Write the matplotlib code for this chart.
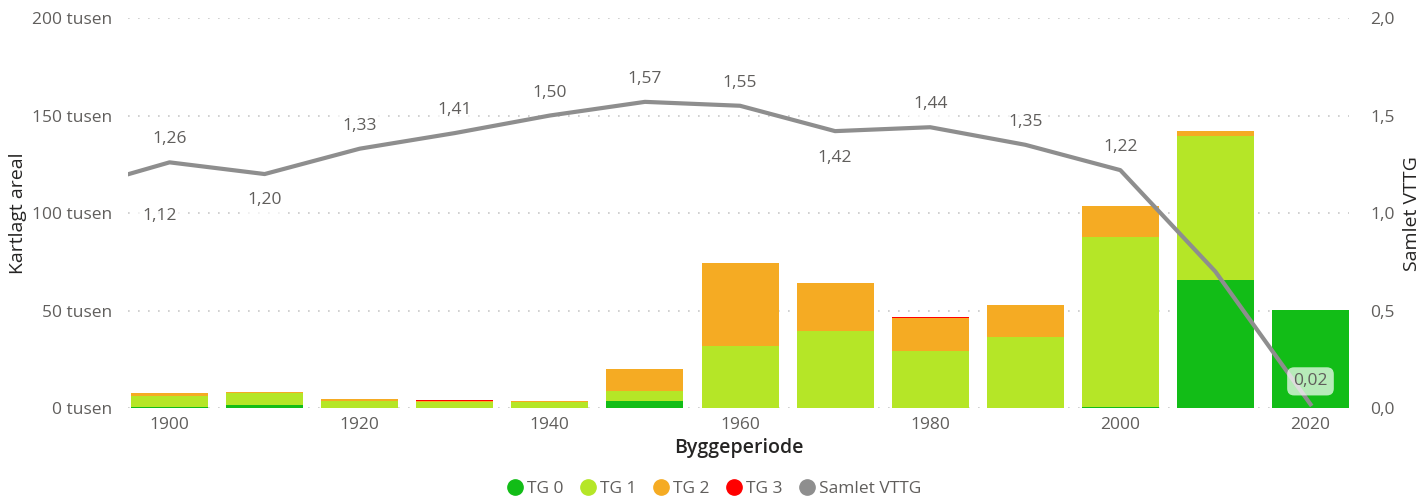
import numpy as np
import matplotlib as mpl
import matplotlib.pyplot as plt
from matplotlib.lines import Line2D
mpl.use("Agg")

plt.rcParams["font.family"] = ["Open Sans", "DejaVu Sans"]

perioder = [1900, 1910, 1920, 1930, 1940, 1950, 1960, 1970, 1980, 1990, 2000, 2010, 2020]
tg0 = [0.5, 1.4, 0.0, 0.0, 0.0, 3.5, 0.3, 0.0, 0.0, 0.0, 0.8, 65.6, 50.3]
tg1 = [5.8, 6.5, 3.8, 3.0, 3.4, 5.2, 31.5, 39.5, 29.2, 36.4, 86.9, 73.9, 0.0]
tg2 = [1.3, 0.3, 0.7, 0.8, 0.2, 11.3, 42.6, 24.6, 17.2, 16.4, 15.9, 2.6, 0.0]
tg3 = [0.2, 0.0, 0.0, 0.4, 0.0, 0.0, 0.0, 0.0, 0.4, 0.0, 0.0, 0.0, 0.0]

vttg_aar = [1890, 1900, 1910, 1920, 1930, 1940, 1950, 1960, 1970, 1980, 1990, 2000, 2010, 2020]
vttg = [1.12, 1.26, 1.20, 1.33, 1.41, 1.50, 1.57, 1.55, 1.42, 1.44, 1.35, 1.22, 0.70, 0.02]
under = [1890, 1910, 1970]  # etiketter under linja
skjult = [2010]

farger = ["#12BD17", "#B5E627", "#F5AB23", "#FF0000"]
navn = ["TG 0", "TG 1", "TG 2", "TG 3"]
tekstgraa = "#605E5C"
tittel = "#252423"

fig = plt.figure(figsize=(14.19, 4.99), dpi=100)
ax = fig.add_axes([0.09, 0.182, 0.861, 0.782])
ax2 = ax.twinx()

bunn = np.zeros(len(perioder))
for verdier, c, n in zip([tg0, tg1, tg2, tg3], farger, navn):
    ax.bar(perioder, verdier, width=8.1, bottom=bunn, color=c, label=n, zorder=2)
    bunn += np.array(verdier)

ax2.plot(vttg_aar, vttg, color="#8E8E8E", lw=3, label="Samlet VTTG", zorder=3)
for x, v in zip(vttg_aar, vttg):
    if x in skjult:
        continue
    dy = -19 if x in under else 16.5
    ax2.annotate(f"{v:.2f}".replace(".", ","), (max(x, 1899), v), xytext=(0, dy),
                 textcoords="offset points", ha="center", va="center",
                 fontsize=12.5, color=tekstgraa, annotation_clip=False,
                 bbox=dict(boxstyle="round,pad=0.35,rounding_size=0.4", fc="white",
                           ec="none", alpha=0.7))

ax.set_xlim(1895.6, 2024.1)
ax.set_ylim(0, 200)
ax2.set_ylim(0, 2.0)
ax.set_yticks([0, 50, 100, 150, 200])
ax.set_yticklabels([f"{t} tusen" for t in [0, 50, 100, 150, 200]])
ax2.set_yticks([0, 0.5, 1.0, 1.5, 2.0])
ax2.set_yticklabels(["0,0", "0,5", "1,0", "1,5", "2,0"])
ax.set_xticks([1900, 1920, 1940, 1960, 1980, 2000, 2020])

ax.grid(axis="y", color="#C8C8C8", linestyle=(0, (1, 5)), lw=1.2, zorder=0)
for a in (ax, ax2):
    for s in a.spines.values():
        s.set_visible(False)
    a.tick_params(length=0, labelsize=12.5, labelcolor=tekstgraa)
ax.tick_params(axis="y", pad=11)
ax.tick_params(axis="x", pad=6)
ax2.tick_params(axis="y", pad=15)

ax.set_xlabel("Byggeperiode", fontsize=14, color=tittel, fontweight="semibold", labelpad=4)
ax.set_ylabel("Kartlagt areal", fontsize=14, color=tittel, labelpad=4)
ax2.set_ylabel("Samlet VTTG", fontsize=14, color=tittel, labelpad=6)

handles = [Line2D([], [], marker="o", ls="", color=c, markersize=11) for c in farger]
handles.append(Line2D([], [], marker="o", ls="", color="#8E8E8E", markersize=11))
fig.legend(handles, navn + ["Samlet VTTG"], loc="center", bbox_to_anchor=(0.5, 0.02),
           ncol=5, frameon=False, fontsize=12.5, handletextpad=-0.3, columnspacing=0.4,
           labelcolor=tekstgraa, borderaxespad=0)

fig.savefig("out.png", dpi=100, facecolor="white")
